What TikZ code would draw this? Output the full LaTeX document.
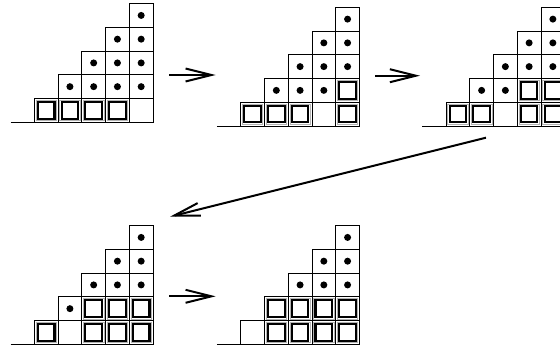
\documentclass[tikz,border=0pt]{standalone}
\usetikzlibrary{arrows.meta}

\tikzset{
  cell/.style={draw, line width=0.9pt},
  ring/.style={draw=gray!60, line width=0.6pt},
  hole/.style={draw, line width=2.1pt},
  bead/.style={fill=black},
  move/.style={line width=2pt, -{Straight Barb[length=26pt,width=13pt,line width=2pt]}},
}

% staircase of 5 columns: origin, boxed cells, dotted cells
\newcommand{\tableau}[3]{%
  \begin{scope}[shift={#1}, x=23.75pt, y=23.75pt]
    \draw[line width=0.9pt] (-1,0) -- (5,0);
    \foreach \c in {0,...,4}
      \foreach \r in {0,...,\c}
        \draw[cell] (\c,\r) rectangle ++(1,1);
    \foreach \c/\r in {#2} {
      \draw[ring] (\c+0.07,\r+0.07) rectangle (\c+0.93,\r+0.93);
      \draw[hole] (\c+0.15,\r+0.15) rectangle (\c+0.85,\r+0.85);
    }
    \foreach \c/\r in {#3}
      \fill[bead] (\c+0.5,\r+0.5) circle (3.5pt);
  \end{scope}}

\begin{document}
\begin{tikzpicture}[x=1pt, y=-1pt]
    \useasboundingbox (0,0) rectangle (560,350);
    \clip (0,0) rectangle (560,350);

    % top row
    \tableau{(34.3,122.3)}{0/0,1/0,2/0,3/0}
      {1/1,2/1,3/1,4/1,2/2,3/2,4/2,3/3,4/3,4/4}
    \tableau{(240.7,126)}{0/0,1/0,2/0,4/0,4/1}
      {1/1,2/1,3/1,2/2,3/2,4/2,3/3,4/3,4/4}
    \tableau{(446,126)}{0/0,1/0,3/0,4/0,3/1,4/1}
      {1/1,2/1,2/2,3/2,4/2,3/3,4/3,4/4}

    % bottom row
    \tableau{(34.3,344.3)}{0/0,2/0,3/0,4/0,2/1,3/1,4/1}
      {1/1,2/2,3/2,4/2,3/3,4/3,4/4}
    \tableau{(240.7,344.3)}{1/0,2/0,3/0,4/0,1/1,2/1,3/1,4/1}
      {2/2,3/2,4/2,3/3,4/3,4/4}

    % arrow end points
    \coordinate (s1) at (169,75);    \coordinate (t1) at (215.7,75);
    \coordinate (s2) at (375,75.7);  \coordinate (t2) at (420,75.7);
    \coordinate (s3) at (486,137.7); \coordinate (t3) at (170,216.7);
    \coordinate (s4) at (169,296.3); \coordinate (t4) at (215.7,296.3);

    \draw[move] (s1) -- (t1);
    \draw[move] (s2) -- (t2);
    \draw[move] (s3) -- (t3);
    \draw[move] (s4) -- (t4);
\end{tikzpicture}
\end{document}
